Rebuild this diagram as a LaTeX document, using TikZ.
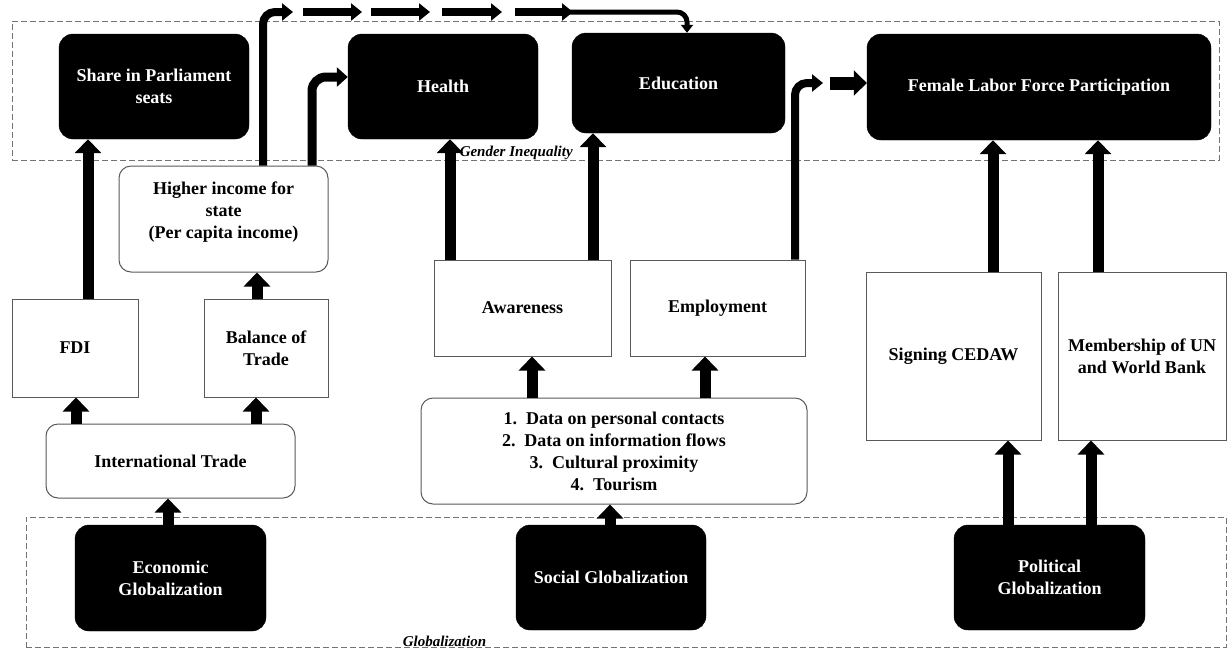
\documentclass[tikz,border=0pt]{standalone}
\usepackage{fontspec}
\setmainfont{Liberation Serif}
\usetikzlibrary{arrows.meta,positioning,fit}
\tikzset{
	dark box/.style={
		fill=black, draw=black, text=white,
		rounded corners=14pt,
		font=\fontsize{18}{22}\selectfont\bfseries,
		align=center, inner sep=2pt
	},
	plain box/.style={
		draw=black!65, line width=1pt, fill=white,
		font=\fontsize{18}{22}\selectfont\bfseries,
		align=center, inner sep=2pt
	},
	round box/.style={
		plain box, rounded corners=12pt
	},
	group box/.style={
		draw=black!55, line width=0.9pt, dash pattern=on 6pt off 3pt, inner sep=0pt
	},
	group title/.style={
		font=\fontsize{15}{17}\selectfont\bfseries\itshape, inner sep=0pt
	},
	big arrow/.style={line width=11pt, -{Triangle[width=26pt,length=14pt]}},
	mid arrow/.style={line width=8pt, -{Triangle[width=17pt,length=11pt]}},
	bend arrow/.style={line width=9pt, -{Triangle[width=19pt,length=11pt]}},
	thin arrow/.style={line width=5pt, -{Triangle[width=12pt,length=8pt]}},
	block arrow/.style={line width=13pt, -{Triangle[width=25pt,length=13pt]}}
}

\begin{document}
\begin{tikzpicture}[x=1pt, y=-1pt]
	\useasboundingbox (0,0) rectangle (1228,649);
	
	% dashed groups
	\node[group box, fit={(12,21) (1219,160)}] (GI) {};
	\node[group box, fit={(26,517) (1226,647)}] (GL) {};
	\node[group title, anchor=base west] at ([xshift=448pt, yshift=4pt]GI.south west) {Gender Inequality};
	\node[group title, anchor=base west] at ([xshift=377pt, yshift=1pt]GL.south west) {Globalization};
	
	% outcomes
	\node[dark box, minimum width=190pt, minimum height=105pt] (sp) at (154,86.5) {Share in Parliament\\seats};
	\node[dark box, minimum width=190pt, minimum height=105pt] (health) at (443,86.5) {Health};
	\node[dark box, minimum width=213pt, minimum height=100pt] (edu) at (678.5,83) {Education};
	\node[dark box, minimum width=344pt, minimum height=106pt] (flfp) at (1039,87) {Female Labor Force Participation};
	
	% economic branch
	\node[round box, minimum width=209pt, minimum height=106pt] (hi) at (223.5,219) {Higher income for\\state\\(Per capita income)\\[-4pt]~};
	\node[plain box, minimum width=126pt, minimum height=98pt] (fdi) at (75,348) {FDI};
	\node[plain box, minimum width=124pt, minimum height=98pt] (bot) at (266,348) {Balance of\\Trade};
	\node[round box, minimum width=249pt, minimum height=74pt] (it) at (170.5,461) {International Trade};
	
	% social branch
	\node[plain box, minimum width=177pt, minimum height=96pt] (aware) at (522.5,308) {Awareness};
	\node[plain box, minimum width=175pt, minimum height=96pt] (employ) at (717.5,308) {Employment};
	\node[round box, minimum width=386pt, minimum height=106pt] (list) at (614,451) {
		1.~~Data on personal contacts\\
		2.~~Data on information flows\\
		3.~~Cultural proximity\\
		4.~~Tourism
	};
	
	% political branch
	\node[plain box, minimum width=175pt, minimum height=168pt] (cedaw) at (953.5,356) {Signing CEDAW};
	\node[plain box, minimum width=168pt, minimum height=168pt] (member) at (1142,356) {Membership of UN\\and World Bank};
	
	% globalization
	\node[dark box, minimum width=191pt, minimum height=106pt] (econ) at (170.5,578) {Economic\\Globalization};
	\node[dark box, minimum width=190pt, minimum height=105pt] (social) at (611,577.5) {Social Globalization};
	\node[dark box, minimum width=191pt, minimum height=105pt] (polit) at (1049.5,577.5) {Political\\Globalization};
	
	\foreach \a/\b/\x in {fdi/sp/88, it/fdi/76, it/bot/256, bot/hi/257, econ/it/168,
		aware/health/450, aware/edu/593, list/aware/532, list/employ/705, social/list/610,
		cedaw/flfp/993, member/flfp/1098, polit/cedaw/1008, polit/member/1091} {
		\draw[big arrow] (\x,0 |- \a.north) -- (\x,0 |- \b.south);
	}
	
	\draw[bend arrow, rounded corners=14pt] (312,0 |- hi.north) |- (health.west |- 0,77);
	
	% long route to education
	\coordinate (top) at (0,12);
	\draw[mid arrow, rounded corners=12pt] (263,0 |- hi.north) |- (293,0 |- top);
	\foreach \s/\e in {303/362, 371/430, 442/502, 515/573} {
		\draw[mid arrow] (\s,0 |- top) -- (\e,0 |- top);
	}
	\draw[thin arrow, rounded corners=10pt] (570,0 |- top) -| (687,0 |- edu.north);
	
	\coordinate (e1) at (823,83);
	\coordinate (e2) at (830,83);
	\draw[mid arrow, rounded corners=12pt] (795,0 |- employ.north) |- (e1);
	\draw[block arrow] (e2) -- (flfp.west |- e2);
\end{tikzpicture}
\end{document}
